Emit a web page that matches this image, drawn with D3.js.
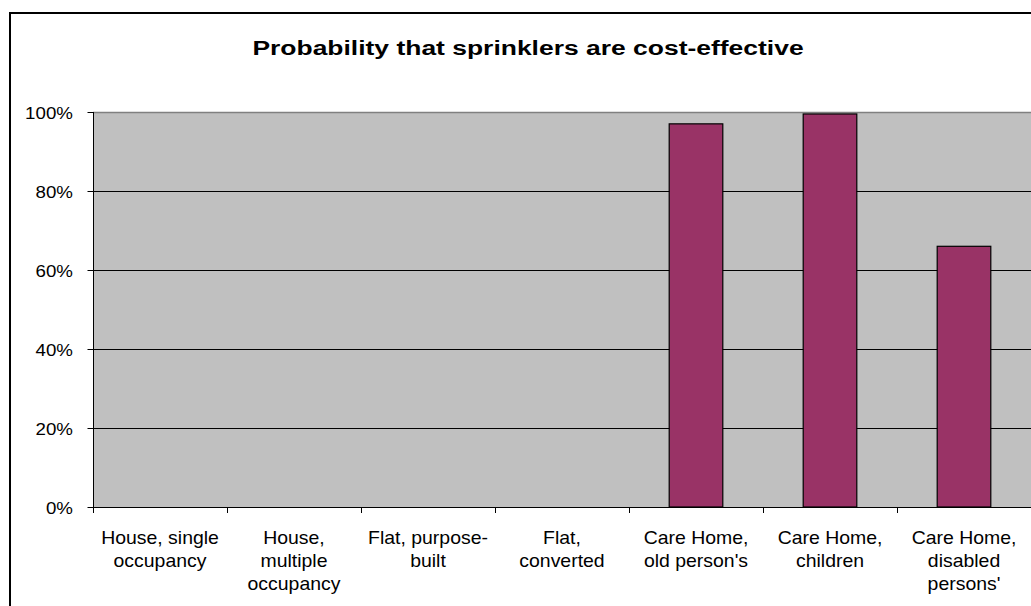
<!DOCTYPE html>
<html>
<head>
<meta charset="utf-8">
<script src="https://cdn.jsdelivr.net/npm/d3@7"></script>
<style>
  html, body { margin: 0; padding: 0; background: #fff; overflow: hidden; }
  svg { display: block; font-family: "Liberation Sans", Arial, sans-serif; }
</style>
</head>
<body>
<svg id="chart" width="1031" height="606"></svg>
<script>
// Building types (wrapped axis labels use "\n" as line breaks)
const categories = [
  "House, single\noccupancy",
  "House,\nmultiple\noccupancy",
  "Flat, purpose-\nbuilt",
  "Flat,\nconverted",
  "Care Home,\nold person's",
  "Care Home,\nchildren",
  "Care Home,\ndisabled\npersons'"
];
// Probability that sprinklers are cost-effective (fraction)
const probability = [0, 0, 0, 0, 0.97, 0.995, 0.66];
const yTicks = [0, 0.2, 0.4, 0.6, 0.8, 1.0];
const titleText = "Probability that sprinklers are cost-effective";

const svg = d3.select("#chart");
const W = 1031, H = 606;
const plot = { left: 93, right: 1031, top: 112, bottom: 507 };

// Outer chart frame (runs past the right and bottom edges)
svg.append("rect")
  .attr("x", 10).attr("y", 13)
  .attr("width", W + 20).attr("height", H + 20)
  .attr("fill", "#fff").attr("stroke", "#000").attr("stroke-width", 2);

const xCat = d3.scaleBand().domain(categories).range([plot.left, plot.right]).padding(0);
const y = d3.scaleLinear().domain([0, 1]).range([plot.bottom, plot.top]);

// Plot area
svg.append("rect")
  .attr("x", plot.left).attr("y", plot.top)
  .attr("width", plot.right - plot.left).attr("height", plot.bottom - plot.top)
  .attr("fill", "#c0c0c0");

// Gridlines
svg.append("g")
  .selectAll("line")
  .data(yTicks.filter(t => t > 0 && t < 1))
  .join("line")
  .attr("x1", plot.left).attr("x2", plot.right)
  .attr("y1", d => Math.round(y(d)) + 0.5).attr("y2", d => Math.round(y(d)) + 0.5)
  .attr("stroke", "#000").attr("stroke-width", 1);

// Plot area top border
svg.append("line")
  .attr("x1", plot.left).attr("x2", plot.right)
  .attr("y1", plot.top + 0.5).attr("y2", plot.top + 0.5)
  .attr("stroke", "#808080").attr("stroke-width", 1.5);

// Bars
const bw = xCat.bandwidth() * 0.4;
svg.append("g")
  .selectAll("rect")
  .data(categories.map((c, i) => ({ c, v: probability[i] })).filter(d => d.v > 0))
  .join("rect")
  .attr("x", d => xCat(d.c) + (xCat.bandwidth() - bw) / 2)
  .attr("y", d => y(d.v))
  .attr("width", bw)
  .attr("height", d => y(0) - y(d.v))
  .attr("fill", "#993366")
  .attr("stroke", "#000").attr("stroke-width", 1.2);

// Y axis
const yAxis = d3.axisLeft(y).tickValues(yTicks).tickFormat(d3.format(".0%")).tickSize(6).tickPadding(10);
const gy = svg.append("g").attr("transform", `translate(${plot.left + 0.5},0)`).call(yAxis);
gy.select(".domain").attr("stroke", "#000").attr("d", `M0,${plot.top}V${plot.bottom}`);
gy.selectAll(".tick line").attr("stroke", "#000");
gy.selectAll(".tick text")
  .attr("font-size", 17).attr("font-family", "Liberation Sans, Arial, sans-serif")
  .attr("fill", "#000").attr("dy", "0.36em")
  .attr("transform", "translate(-3,0) scale(1.1,1)");

// X axis line and boundary ticks
const gx = svg.append("g");
gx.append("line")
  .attr("x1", plot.left).attr("x2", plot.right)
  .attr("y1", plot.bottom + 0.5).attr("y2", plot.bottom + 0.5)
  .attr("stroke", "#000").attr("stroke-width", 1.2);
gx.selectAll("line.tick")
  .data(categories.concat([null]))
  .join("line")
  .attr("class", "tick")
  .attr("x1", d => (d === null ? plot.right : xCat(d)) + 0.5)
  .attr("x2", d => (d === null ? plot.right : xCat(d)) + 0.5)
  .attr("y1", plot.bottom).attr("y2", plot.bottom + 6)
  .attr("stroke", "#000");

// Category labels
gx.selectAll("text")
  .data(categories)
  .join("text")
  .attr("transform", d => `translate(${xCat(d) + xCat.bandwidth() / 2},544) scale(1.08,1)`)
  .attr("text-anchor", "middle")
  .attr("font-size", 18)
  .attr("fill", "#000")
  .each(function (d) {
    const t = d3.select(this);
    d.split("\n").forEach((line, i) => {
      t.append("tspan")
        .attr("x", 0)
        .attr("y", i * 23)
        .text(line);
    });
  });

// Title
svg.append("text")
  .attr("transform", "translate(528,55) scale(1.26,1)")
  .attr("text-anchor", "middle")
  .attr("font-size", 21).attr("font-weight", "bold")
  .attr("fill", "#000")
  .text(titleText);
</script>
</body>
</html>
